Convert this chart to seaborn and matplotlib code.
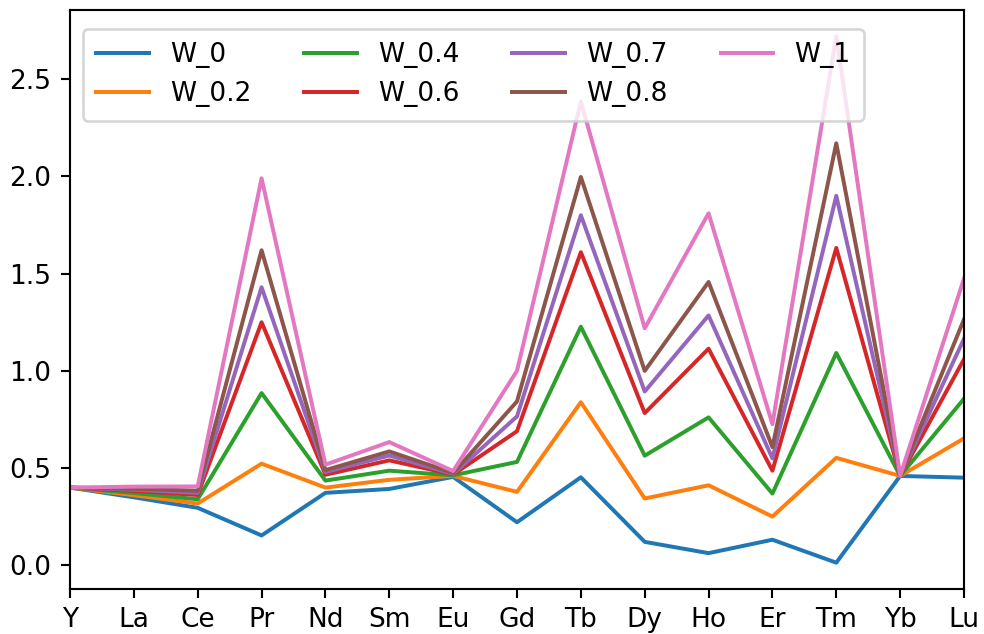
import matplotlib
matplotlib.use("Agg")
import matplotlib.pyplot as plt
import numpy as np
import pandas as pd
import seaborn as sns

elements = ["Y", "La", "Ce", "Pr", "Nd", "Sm", "Eu", "Gd", "Tb", "Dy", "Ho", "Er", "Tm", "Yb", "Lu"]

w_0   = [0.40, 0.350, 0.296, 0.154, 0.373, 0.393, 0.455, 0.222, 0.453, 0.121, 0.063, 0.132, 0.014, 0.46, 0.451]
w_0_2 = [0.40, 0.361, 0.318, 0.523, 0.400, 0.440, 0.460, 0.378, 0.839, 0.344, 0.412, 0.251, 0.553, 0.46, 0.653]
w_0_4 = [0.40, 0.372, 0.340, 0.886, 0.436, 0.487, 0.463, 0.532, 1.227, 0.564, 0.761, 0.369, 1.092, 0.46, 0.857]
w_0_6 = [0.40, 0.383, 0.362, 1.250, 0.466, 0.540, 0.467, 0.690, 1.610, 0.783, 1.114, 0.487, 1.632, 0.46, 1.060]
w_0_7 = [0.40, 0.389, 0.373, 1.430, 0.480, 0.565, 0.470, 0.766, 1.800, 0.894, 1.285, 0.550, 1.900, 0.46, 1.165]
w_0_8 = [0.40, 0.394, 0.384, 1.620, 0.490, 0.586, 0.475, 0.843, 1.997, 1.000, 1.457, 0.608, 2.170, 0.46, 1.265]
w_1   = [0.40, 0.405, 0.406, 1.990, 0.518, 0.634, 0.485, 1.000, 2.385, 1.219, 1.810, 0.726, 2.720, 0.46, 1.475]

series_names = ["W_0", "W_0.2", "W_0.4", "W_0.6", "W_0.7", "W_0.8", "W_1"]
series_values = [w_0, w_0_2, w_0_4, w_0_6, w_0_7, w_0_8, w_1]

rows = []
for name, vals in zip(series_names, series_values):
    for i, (el, v) in enumerate(zip(elements, vals)):
        rows.append({"pos": i, "element": el, "value": v, "series": name})
df = pd.DataFrame(rows)

dpi = 190
fig = plt.figure(figsize=(984 / dpi, 634 / dpi), dpi=dpi)
ax = fig.add_axes([70 / 984, 1 - 589 / 634, (964 - 70) / 984, (589 - 10) / 634])

palette = sns.color_palette("tab10", len(series_names))
sns.lineplot(data=df, x="pos", y="value", hue="series", hue_order=series_names,
             palette=palette, linewidth=1.5, ax=ax)

ax.set_xlim(0, len(elements) - 1)
ax.set_xticks(range(len(elements)))
ax.set_xticklabels(elements)
ax.set_xlabel("")
ax.set_ylabel("")
ax.set_yticks([0.0, 0.5, 1.0, 1.5, 2.0, 2.5])

sns.move_legend(ax, "upper left", ncol=4, title=None, frameon=True,
                borderpad=0.5, bbox_to_anchor=(0.0, 0.99))

fig.savefig("out.png", dpi=dpi)
